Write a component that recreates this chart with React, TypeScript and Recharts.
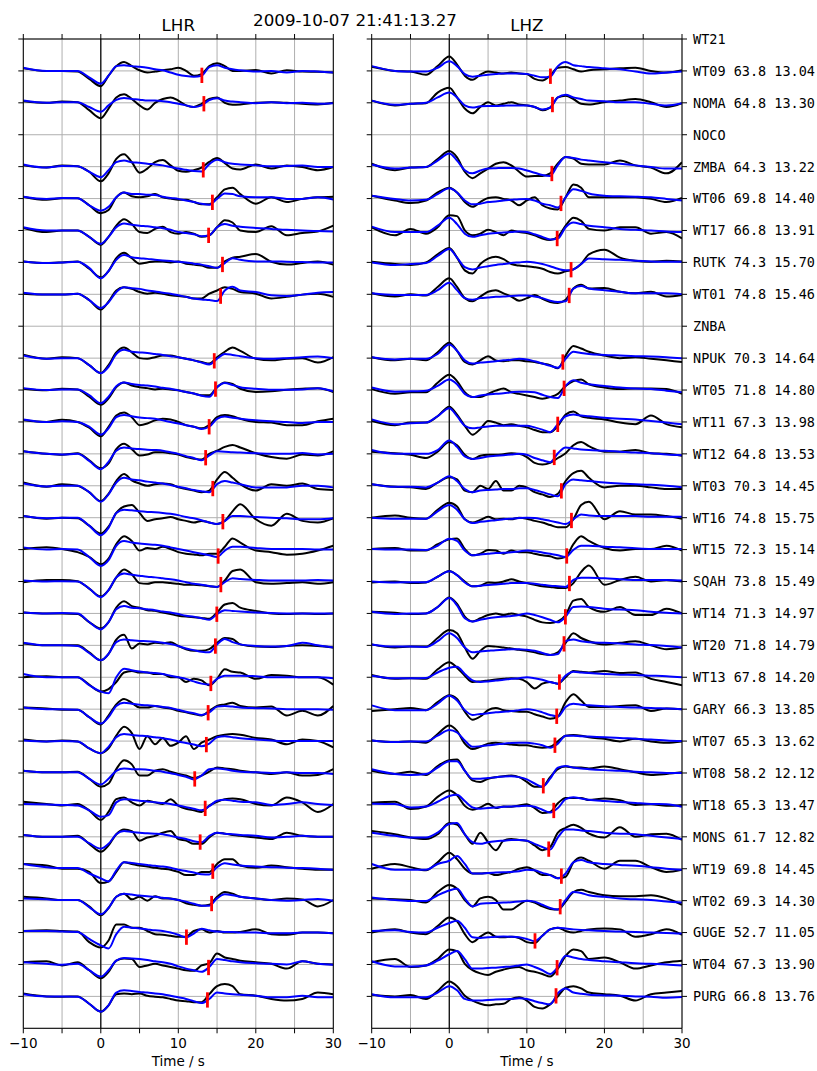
import React from 'react';
import { LineChart, Line, XAxis, YAxis, CartesianGrid, ReferenceLine } from 'recharts';

// ---------- data ----------
const TITLE = '2009-10-07 21:41:13.27';
const COMPONENTS = ['LHR', 'LHZ'];
const X_LABEL = 'Time / s';
const X_TICKS = [-10, -5, 0, 5, 10, 15, 20, 25, 30];
// sample times (s) of the traces
const TIMES = [-10, -7, -5, -3, -1.5, 0, 1, 2, 3, 4, 5, 6, 7, 8, 9, 10, 11, 12, 13, 14, 15, 16, 17, 18, 20, 22, 24, 26, 28, 30];

const STATIONS = ['WT21', 'WT09', 'NOMA', 'NOCO', 'ZMBA', 'WT06', 'WT17', 'RUTK', 'WT01', 'ZNBA', 'NPUK', 'WT05', 'WT11', 'WT12', 'WT03', 'WT16', 'WT15', 'SQAH', 'WT14', 'WT20', 'WT13', 'GARY', 'WT07', 'WT08', 'WT18', 'MONS', 'WT19', 'WT02', 'GUGE', 'WT04', 'PURG'];
const DISTANCES = [null, 63.8, 64.8, null, 64.3, 69.8, 66.8, 74.3, 74.8, null, 70.3, 71.8, 67.3, 64.8, 70.3, 74.8, 72.3, 73.8, 71.3, 71.8, 67.8, 66.3, 65.3, 58.2, 65.3, 61.7, 69.8, 69.3, 52.7, 67.3, 66.8];
const PICKS = [null, 13.04, 13.30, null, 13.22, 14.40, 13.91, 15.70, 15.46, null, 14.64, 14.80, 13.98, 13.53, 14.45, 15.75, 15.14, 15.49, 14.97, 14.79, 14.20, 13.85, 13.62, 12.12, 13.47, 12.82, 14.45, 14.30, 11.05, 13.90, 13.76];

// amplitudes in hundredths of the trace spacing, one row per station (null = no data)
const LHR_OBS = [
  null,
  [8, 0, 0, -2, -25, -48, -15, 15, 28, 15, 2, -5, -2, 2, 5, 10, 0, -15, -10, 15, 24, 15, 0, 0, 3, -8, 2, -2, -3, -5], // WT09
  [5, 0, 4, 2, -23, -48, -18, 17, 27, 12, -8, -21, 0, 12, 17, 7, -8, -13, -3, 12, 17, 0, -6, -5, 0, 2, 0, -3, -5, 0], // NOMA
  null,
  [4, -3, 4, 1, -16, -46, -21, 24, 39, 14, -19, -6, 14, 21, 4, -13, -16, -11, -3, 15, 27, 11, -6, -9, 7, -6, 4, -1, -11, -1], // ZMBA
  [6, -4, 1, 1, -21, -46, -36, 4, 19, 7, 4, 7, 14, 4, 0, -4, -4, -11, -18, -18, 4, 29, 34, 14, -16, 4, -11, -1, 4, 6], // WT06
  [8, -5, 0, 0, -20, -45, -20, 15, 35, 20, -5, -8, 5, 12, -5, -10, -5, -10, -20, -15, 10, 32, 25, 0, -5, 13, -15, -8, -3, 15], // WT17
  [3, -2, 0, 3, -20, -47, -27, 13, 30, 13, -4, 0, 3, 3, 0, 3, -4, -7, -10, -17, -17, 3, 15, 18, 26, 2, -7, -2, 3, -7], // RUTK
  [2, -1, -1, 2, -18, -48, -23, 12, 22, 17, 7, 2, 5, 2, -3, -5, -8, -13, -13, 2, 12, 22, 17, 7, 2, -13, -8, -1, 2, -8], // WT01
  null,
  [11, -2, 3, 0, -22, -47, -22, 18, 33, 18, 0, -2, 3, 8, 8, 3, -2, -7, -12, -17, 3, 20, 33, 23, -2, -7, -2, 0, -14, 3], // NPUK
  [4, -1, 4, 2, -21, -46, -26, 9, 24, 14, 9, 6, 2, 4, 2, -1, -6, -11, -16, -16, 9, 24, 19, 4, -6, -4, 1, 4, 6, -6], // WT05
  [5, 0, 7, 0, -18, -45, -15, 20, 30, 15, -10, -5, 5, 10, 8, 0, -10, -15, -20, -10, 15, 22, 18, 10, 0, -2, -10, -10, 2, 10], // WT11
  [8, 0, -3, 2, -20, -45, -30, 15, 32, 15, -5, -2, 5, 5, 2, -2, -10, -15, -18, 0, 10, 22, 28, 20, 2, -10, -15, -2, -5, 8], // WT12
  [10, -3, 5, 0, -20, -48, -25, 15, 37, 17, 7, 0, 5, 7, 5, -5, -10, -15, -20, -15, 20, 43, 25, 5, -15, 5, 0, 7, -10, -13], // WT03
  [5, -3, 0, -2, -25, -50, -28, 15, 35, 40, 15, -10, -5, -2, 2, -5, -10, -15, -10, -15, -20, -10, 20, 42, -5, -25, 12, -10, -15, -2], // WT16
  [2, 7, 2, -8, -23, -46, -28, 17, 42, 27, -3, 5, 2, 9, 2, -8, -13, -15, -18, -13, -13, 9, 35, 22, -3, -8, -16, -13, -3, 12], // WT15
  [-2, 5, 5, 1, -22, -47, -27, 13, 38, 23, -5, -7, -2, -2, -5, -7, -10, -10, -12, -15, -17, 3, 33, 38, -2, -7, -5, -2, -7, -2], // SQAH
  [3, 0, 0, -2, -27, -47, -27, 18, 38, 23, 18, 10, 8, 3, -2, -7, -10, -12, -14, -17, 3, 28, 33, 18, 8, 0, -2, 0, -2, 0], // WT14
  [6, 0, 0, 0, -22, -47, -27, 18, 33, -10, 6, 3, 8, 6, 10, -2, -12, -17, -17, -12, 8, 23, 20, 3, -4, -5, -2, 0, -2, -7], // WT20
  [0, 3, 0, 0, -23, -45, -37, -15, 15, 20, 15, 15, 10, 10, 0, 0, -15, -5, -10, -25, -5, 25, 17, 15, -5, 7, 5, 0, 0, -23], // WT13
  [5, 2, -2, -2, -25, -48, -20, 15, 32, 20, 5, 5, 10, 5, 2, -5, -10, -15, -20, -5, 10, 15, 20, 10, 5, 8, -20, -5, -20, 10], // GARY
  [5, -1, 2, -1, -23, -38, -23, 17, 45, 25, -25, 15, -10, 10, -15, -5, 15, -25, -5, 5, 15, 20, 22, 20, 10, 5, -10, 5, 0, -20], // WT07
  [7, 2, 2, 4, -18, -43, -33, 12, 40, 27, -8, -8, 7, 12, 4, -3, -8, -16, -8, 4, 17, 14, 12, 7, 2, -3, 2, -8, -6, 12], // WT08
  [10, 3, -2, 3, -17, -47, -22, 18, 23, 8, -2, 13, 8, 3, 18, -2, -12, -17, -22, -2, 10, 18, 20, 18, 3, -2, 23, 8, -22, 3], // WT18
  [6, 0, 0, 3, -22, -47, -27, 8, 23, 18, -12, -2, 3, 13, 18, -7, -12, -22, -22, -2, 13, 10, 6, 3, -2, -7, 13, 3, 0, 0], // MONS
  [15, 10, 0, 0, -10, -45, -40, -10, 20, 15, 10, 7, 3, 0, -3, -10, -20, -20, -10, -10, 15, 30, 30, 10, 3, 10, 5, 0, -3, -3], // WT19
  [12, 7, 2, 2, -18, -46, -23, 12, 22, 4, 12, 0, 14, 7, 7, 2, -8, -13, -16, -13, 12, 27, 22, 12, 7, 2, 7, 4, -18, 2], // WT02
  [5, 7, 5, 3, -30, -47, -25, 25, 25, 15, 15, 5, -5, -7, -10, -13, -13, 5, 10, 0, 5, 0, 0, 2, 10, -5, -7, 0, 0, -2], // GUGE
  [7, 10, -3, 7, -18, -43, -23, 12, 19, 17, -8, -3, 2, -3, -8, -13, -18, -20, -3, 4, 34, 22, 17, 12, 7, 2, -13, 10, 2, 0], // WT04
  [9, 0, -1, 0, -23, -48, -28, 7, 9, 7, 9, 2, -1, -3, -8, -13, -15, -18, -18, 7, 32, 39, 32, 7, 2, -8, -13, -8, 12, 7], // PURG
];

const LHR_SYN = [
  null,
  [10, 0, 0, 0, -20, -40, -15, 15, 18, 15, 13, 10, 5, 2, -5, -12, -16, -18, -15, 12, 18, 10, 5, 2, -2, 0, -5, 0, -2, -5], // WT09
  [7, 0, 2, 2, -13, -28, -8, 9, 15, 12, 10, 7, 7, 5, 2, -3, -8, -13, -8, 9, 14, 7, 4, 2, -1, 2, -1, 0, -3, -1], // NOMA
  null,
  [7, -3, 2, 1, -16, -33, -11, 14, 19, 14, 12, 9, 7, 4, -1, -6, -10, -14, -15, 8, 22, 14, 9, 7, 4, 1, 2, 4, -1, -1], // ZMBA
  [6, -1, 2, 1, -21, -38, -26, 4, 19, 14, 14, 12, 11, 6, 2, -1, -6, -11, -16, -19, -1, 16, 14, 7, 4, 4, -1, -1, 4, -3], // WT06
  [10, 0, 0, 0, -20, -42, -20, 10, 22, 18, 15, 13, 10, 7, 2, -5, -8, -12, -18, -15, 10, 20, 15, 12, 8, 5, 2, 0, -2, -3], // WT17
  [3, -2, 0, 2, -17, -50, -27, 8, 23, 16, 13, 11, 8, 6, 4, 2, 0, -4, -7, -12, -17, -2, 13, 8, 3, 3, 2, 1, 0, 0], // RUTK
  [5, -1, -1, 2, -18, -43, -25, 7, 22, 19, 17, 12, 9, 5, 2, -3, -8, -13, -16, -18, -21, 12, 24, 12, 7, -3, -5, -1, 5, 7], // WT01
  null,
  [8, -2, 0, 0, -22, -47, -27, 13, 26, 20, 18, 16, 13, 10, 6, 3, -2, -7, -14, -20, -2, 13, 10, 6, 0, -2, 0, 3, 5, 0], // NPUK
  [6, 0, 2, 2, -16, -41, -21, 12, 24, 19, 16, 14, 11, 7, 4, -1, -6, -11, -18, -21, 9, 22, 16, 9, 4, 1, 1, 2, 6, -4], // WT05
  [8, 0, 2, 0, -15, -40, -20, 15, 22, 18, 14, 12, 10, 5, 0, -5, -10, -15, -22, -15, 10, 17, 13, 10, 5, 2, 0, -3, 0, 0], // WT11
  [8, 0, -2, 0, -22, -48, -25, 10, 20, 17, 15, 13, 12, 10, 5, 0, -7, -13, -20, -5, 8, 7, 5, 4, 2, 0, 0, 3, -2, 0], // WT12
  [7, -2, 0, 0, -20, -50, -27, 10, 25, 20, 17, 13, 10, 7, 2, -3, -8, -13, -17, -20, 5, 15, 10, 5, -5, -5, -5, 0, 0, -5], // WT03
  [5, -2, 0, 0, -25, -55, -32, 15, 25, 23, 20, 18, 17, 15, 12, 8, 2, -2, -8, -15, -20, -10, 5, 5, 2, 0, -2, -5, -5, -2], // WT16
  [7, 0, 2, 0, -23, -51, -33, 12, 27, 22, 19, 17, 15, 12, 7, 2, -3, -8, -13, -18, -23, -3, 9, 9, 5, 2, 2, 2, 0, 0], // WT15
  [3, 0, 1, 0, -22, -49, -27, 13, 25, 21, 18, 15, 13, 10, 7, 3, -2, -7, -10, -14, -17, -2, 10, 8, 5, 3, 3, 3, 5, 3], // SQAH
  [3, 0, 1, 0, -27, -50, -27, 13, 23, 18, 16, 13, 10, 6, 3, -2, -7, -10, -15, -20, -2, 10, 8, 6, 3, 1, 0, 0, 0, 0], // WT14
  [8, 0, 0, -2, -24, -47, -27, 10, 18, 16, 14, 13, 11, 8, 4, -2, -10, -15, -20, -22, 3, 20, 10, 3, -2, -4, -2, 8, 0, -7], // WT20
  [10, 0, 0, 0, -25, -45, -50, 0, 27, 22, 18, 15, 13, 10, 5, 0, -5, -13, -20, -23, -5, 5, 5, 5, 3, 0, 0, 0, 0, -3], // WT13
  [5, 0, 0, -2, -25, -45, -25, 10, 20, 17, 14, 12, 10, 7, 4, -2, -8, -13, -18, -10, 8, 10, 8, 5, 3, 2, 0, 0, 0, -2], // GARY
  [2, -1, 0, -1, -23, -38, -18, 12, 22, 19, 17, 15, 12, 9, 5, -1, -6, -11, -16, -8, 12, 15, 12, 9, 5, 2, 0, 0, 0, 0], // WT07
  [7, 2, 2, 2, -18, -36, -18, 7, 14, 12, 12, 10, 7, 4, -1, -6, -12, -20, -8, 12, 14, 12, 7, 4, 2, 0, 2, 0, 0, -3], // WT08
  [3, 1, 0, -2, -17, -37, -32, 8, 18, 16, 13, 11, 8, 6, 3, -2, -7, -12, -17, -4, 13, 16, 13, 10, 8, 0, 3, 8, 3, 0], // WT18
  [6, 0, 0, 0, -20, -37, -22, 8, 18, 15, 13, 11, 10, 8, 3, -2, -7, -14, -17, 3, 13, 10, 8, 6, 3, -2, 0, 3, 0, 0], // MONS
  [15, 5, 2, 2, -15, -30, -40, -5, 20, 18, 15, 12, 9, 7, 3, -3, -7, -12, -17, -18, 5, 17, 13, 10, 7, 5, 3, 2, 0, -3], // WT19
  [7, 4, 2, 2, -20, -43, -23, 12, 22, 19, 16, 14, 12, 9, 6, 2, -3, -10, -16, -16, 7, 20, 17, 12, 7, 2, 0, 2, 5, 0], // WT02
  [5, 5, 3, 2, -20, -40, -50, -5, 18, 15, 13, 10, 7, 5, 0, -7, -15, -3, 12, 7, 3, 2, 2, 0, 0, -2, -2, 0, 0, -2], // GUGE
  [7, 2, -1, 2, -18, -38, -18, 12, 20, 19, 17, 14, 10, 7, 2, -6, -13, -18, -23, -8, 17, 14, 10, 7, 4, 2, 0, 10, 2, -1], // WT04
  [7, 0, 0, -1, -23, -48, -28, 12, 19, 17, 14, 12, 9, 7, 2, -3, -8, -15, -21, -8, 12, 9, 7, 5, 2, -3, -3, 2, -3, -3], // PURG
];

const LHZ_OBS = [
  null,
  [13, 0, -2, -12, 15, 45, 20, -15, -28, -12, -2, -5, -8, -5, -8, -10, -25, -30, -15, 10, 12, 5, -2, 2, 5, 8, 10, 0, -5, 2], // WT09
  [7, -8, -3, -1, 32, 47, 17, -18, -33, -13, 2, -8, -3, 2, -5, -8, -13, -23, -15, 17, 22, 12, -3, -5, 2, 7, 12, 2, -13, -1], // NOMA
  null,
  [9, -11, -3, -1, 24, 49, 29, -16, -36, -21, -6, 9, 14, 4, -16, -31, -29, -29, -21, 10, 30, 25, 9, 7, 7, 19, 4, -3, -21, 14], // ZMBA
  [9, -6, -14, -6, 19, 34, 19, -11, -26, -11, 2, 4, -1, -6, -21, -6, 4, -21, -31, -34, 4, 44, 34, 4, 4, 4, 4, -1, -11, 2], // WT06
  [10, -15, 5, -10, 10, 48, 45, 0, -15, -10, 2, -5, -15, 0, -5, -8, -15, -25, -30, -20, 15, 40, 30, 5, 0, 10, 10, -10, -5, -25], // WT17
  [2, -5, -8, 0, 25, 45, 15, -25, -35, -5, 12, 18, 10, -5, -10, -12, -15, -20, -30, -35, -28, -22, -5, 25, 40, 15, 5, 2, 5, 3], // RUTK
  [3, -7, 0, -4, 23, 50, 23, -12, -22, -7, 8, 13, 3, -7, -20, -12, -2, -14, -24, -27, -17, 18, 30, 18, 20, 8, 3, 8, -7, -2], // WT01
  null,
  [3, -7, -2, -7, 18, 48, 23, -12, -20, -7, 6, -7, -10, -7, -7, -10, -12, -17, -22, -32, 8, 38, 30, 20, 8, 0, 3, -2, -7, -12], // NPUK
  [3, -12, -7, -7, 23, 48, 28, -7, -22, -22, -12, -2, 5, -7, -12, -17, -22, -27, -22, -12, 13, 28, 33, 18, 8, 3, 5, 5, 3, -12], // WT05
  [3, -10, -2, -2, 18, 48, 23, -12, -40, -22, 3, -2, -10, -7, -12, -17, -25, -32, -32, -12, 23, 33, 18, 13, 8, -2, -7, 20, -7, -17], // WT11
  [7, 2, -3, -13, 7, 37, 27, -3, -16, -6, -3, -3, -1, 2, 0, -10, -28, -33, -28, -13, 2, 27, 37, 24, 7, 7, 12, 2, 0, -6], // WT12
  [5, -3, -5, -10, 10, 27, 20, -15, -20, 0, -10, 15, -15, -15, 0, -5, -20, -27, -35, -25, 15, 40, 47, 25, -5, 0, 0, -5, -10, -10], // WT03
  [0, 7, 0, -3, 25, 47, 35, -5, -15, -7, 3, -5, -3, -5, 0, -3, -10, -15, -23, -30, -30, -5, 40, 50, -5, 20, 10, 10, 5, -3], // WT16
  [2, 5, -3, -3, 17, 32, 35, 2, -18, -13, -1, -3, -13, -3, -8, -8, -13, -18, -21, -28, -23, 17, 42, 27, 5, -3, 2, 2, 12, -3], // WT15
  [-3, 0, -5, -3, 15, 33, 20, 0, -15, -13, -3, -5, 0, 7, 0, -5, -10, -15, -17, -20, -20, -5, 30, 50, -10, 5, 15, 0, 5, 0], // SQAH
  [5, 2, -2, 0, 20, 50, 30, -10, -25, -15, -5, 0, -5, 0, -5, -10, -20, -28, -30, -25, -5, 40, 45, 20, 5, 20, -5, -5, 15, 0], // WT14
  [3, -7, -4, -4, 23, 48, 38, -7, -42, -17, -2, -4, -7, -10, -14, -17, -22, -27, -30, -22, 8, 38, 23, 13, 3, 8, 13, 0, -12, -7], // WT20
  [7, -5, -3, -5, 25, 47, 30, 5, -15, -13, -10, -7, -5, -3, -5, -15, -35, -20, -15, -20, 0, 20, 17, 15, 20, 13, 15, -5, -15, -25], // WT13
  [-6, 0, 4, -3, 22, 44, 32, -8, -33, -23, -3, 4, -3, -6, -8, -8, -16, -23, -30, -23, 22, 47, 27, 7, 7, 10, 12, -6, 2, 0], // GARY
  [2, -3, -1, -5, 22, 49, 32, -8, -25, -18, -8, -5, -8, -11, -13, -13, -18, -21, -18, -1, 17, 19, 17, 12, 7, -1, 7, -1, -5, -1], // WT07
  [7, -3, 4, -6, 22, 40, 42, 7, -23, -28, -18, -13, -10, -8, -13, -28, -43, -43, -13, 12, 20, 17, 17, 14, 20, 12, 2, -6, -3, 2], // WT08
  [7, 10, -13, -5, 25, 45, 30, -3, -15, -8, 4, -10, -5, -6, -2, 2, -10, -25, -22, 5, 22, 22, 22, 15, 20, 15, 0, 2, -3, 0], // WT18
  [18, 8, -2, -7, 8, 43, 38, 8, -22, 13, -17, -42, -12, -7, -10, -12, -27, -42, -32, 13, 28, 38, 28, 10, -2, 30, 0, 8, 10, -10], // MONS
  [0, 15, 5, -5, 20, 50, 30, 0, -15, -15, -13, -20, -15, -10, 0, 5, -5, -20, -20, -30, -25, 20, 35, 25, 0, 25, 25, 5, -10, -3], // WT19
  [7, 4, 2, -6, 27, 49, 37, 2, -18, 7, 12, 2, -28, -28, -13, 0, -6, -18, -26, -28, -3, 27, 34, 27, 17, 14, 14, 17, 7, -13], // WT02
  [0, 10, 0, -5, 20, 47, 35, -5, -30, -13, 0, -13, -15, -13, -17, -30, -33, -10, 10, 15, 5, 0, 5, 10, 13, 10, -13, -5, 10, -7], // GUGE
  [7, 17, -8, -3, 17, 47, 42, 2, -18, -28, -33, -23, -16, -10, -8, -18, -23, -30, -38, -13, 27, 47, 42, 17, 22, 7, -13, -3, 7, 12], // WT04
  [5, 0, 4, -8, 17, 47, 32, 2, -13, -23, -28, -25, -23, -8, -3, -13, -33, -38, -25, 0, 27, 32, 25, 12, 7, 2, -13, 7, 12, 17], // PURG
];

const LHZ_SYN = [
  null,
  [15, 0, -2, -2, 10, 30, 15, -10, -18, -15, -12, -10, -8, -8, -8, -10, -15, -20, -18, 15, 28, 18, 15, 12, 8, 5, -2, -8, -5, -2], // WT09
  [7, -6, -3, 0, 17, 32, 17, -8, -15, -11, -10, -10, -9, -8, -8, -8, -13, -21, -15, 17, 25, 17, 12, 7, 5, 2, 2, -3, -8, -1], // NOMA
  null,
  [7, -6, -3, -1, 19, 41, 19, -11, -21, -12, -6, -5, -4, -4, -6, -12, -19, -26, -29, 5, 30, 27, 22, 19, 14, 9, 4, -1, -6, -6], // ZMBA
  [9, -1, -6, -4, 14, 32, 19, -6, -18, -16, -11, -9, -6, -4, -2, -1, -6, -16, -21, -28, 4, 29, 24, 16, 9, 7, 6, 4, -1, -6], // WT06
  [12, -5, -5, -5, 15, 40, 20, -10, -20, -15, -10, -8, -6, -5, -3, -5, -12, -20, -28, -25, 10, 25, 20, 15, 10, 5, 2, 0, -3, -5], // WT17
  [0, -8, -5, -2, 20, 42, 15, -15, -22, -16, -12, -8, -5, -2, 0, 2, 0, -5, -12, -20, -25, -22, -5, 12, 10, 8, 5, 3, 2, 2], // RUTK
  [3, -2, -2, -2, 13, 36, 13, -12, -17, -12, -10, -8, -7, -5, -4, -4, -7, -12, -20, -24, -22, 18, 26, 18, 13, 8, 3, 3, 3, 0], // WT01
  null,
  [3, -4, -2, -2, 13, 43, 23, -7, -17, -14, -12, -10, -7, -5, -2, -4, -10, -17, -24, -30, -2, 20, 16, 13, 10, 8, 6, 5, 3, 0], // NPUK
  [8, -5, -4, -2, 13, 33, 18, -12, -22, -17, -14, -12, -10, -7, -5, -5, -7, -15, -22, -25, 13, 31, 23, 18, 13, 8, 5, 3, -2, -7], // WT05
  [8, -7, -4, -2, 18, 43, 18, -12, -20, -17, -14, -12, -12, -12, -12, -12, -17, -24, -32, -7, 18, 23, 20, 18, 13, 10, 8, 3, -2, -7], // WT11
  [12, 0, 0, 0, 12, 42, 22, -8, -16, -13, -8, -6, -4, -2, 0, -3, -13, -20, -26, 2, 20, 17, 14, 12, 10, 7, 4, 2, -2, -4], // WT12
  [5, -3, -3, -5, 10, 30, 15, -10, -20, -15, -13, -12, -10, -10, -8, -8, -13, -20, -27, -33, 5, 20, 17, 15, 10, 7, 5, 3, 0, -5], // WT03
  [0, -3, -3, -3, 20, 40, 25, -5, -17, -13, -10, -8, -5, -3, -1, 0, -1, -5, -10, -15, -20, -5, 10, 7, 5, 5, 5, 3, 3, 3], // WT16
  [2, 0, 0, -1, 12, 34, 27, -3, -18, -15, -13, -11, -10, -8, -6, -3, -5, -9, -13, -18, -23, -1, 12, 12, 9, 7, 4, 2, 2, 2], // WT15
  [0, -3, -2, -2, 15, 32, 20, -3, -15, -13, -11, -9, -7, -5, -5, -5, -7, -10, -13, -15, -17, 5, 12, 12, 10, 7, 5, 5, 5, 3], // SQAH
  [5, -2, 0, 0, 20, 48, 25, -15, -25, -20, -15, -12, -10, -8, -5, 0, -5, -12, -20, -28, -10, 20, 22, 20, 15, 12, 10, 5, 2, 0], // WT14
  [3, -4, -4, -5, 13, 38, 23, -7, -22, -19, -17, -15, -14, -12, -12, -14, -17, -24, -30, -27, 13, 18, 13, 10, 8, 6, 3, 1, -2, -7], // WT20
  [5, -3, -3, -2, 15, 30, 33, 10, -10, -15, -13, -10, -8, -5, -3, 0, -3, -8, -15, -20, 5, 17, 15, 13, 10, 8, 7, 5, 3, 0], // WT13
  [12, -3, -3, -3, 17, 42, 27, -3, -18, -15, -13, -10, -8, -6, -3, 0, -3, -10, -18, -23, 7, 17, 14, 12, 9, 7, 5, 4, 2, 0], // GARY
  [2, -3, -1, -1, 17, 35, 27, 2, -18, -16, -13, -11, -8, -6, -5, -5, -8, -13, -21, -8, 17, 17, 15, 14, 12, 10, 7, 5, 2, 0], // WT07
  [12, -3, -6, -3, 17, 37, 37, 7, -18, -18, -16, -13, -11, -10, -13, -20, -33, -43, -18, 17, 22, 17, 14, 12, 9, 7, 4, 2, 0, 0], // WT08
  [4, 3, -8, -5, 10, 28, 32, 12, -8, -12, -10, -8, -6, -5, -4, -3, -6, -15, -24, -10, 18, 24, 20, 16, 12, 9, 6, 3, 2, -6], // WT18
  [13, 3, -2, -2, 13, 40, 43, 8, -17, -22, -17, -14, -12, -10, -10, -12, -22, -32, -40, -2, 23, 23, 20, 18, 13, 10, 8, 3, -2, -7], // MONS
  [15, -3, -3, -3, 15, 25, 40, 15, -15, -15, -13, -12, -11, -10, -8, -3, -5, -13, -20, -30, -15, 20, 27, 20, 15, 12, 9, 5, 0, -3], // WT19
  [10, 2, -1, -1, 17, 32, 37, 7, -18, -10, -8, -7, -6, -5, -3, 0, -3, -13, -23, -28, 2, 27, 24, 17, 12, 7, 4, 2, -3, -6], // WT02
  [5, 7, 2, 0, 15, 30, 37, 15, -15, -17, -15, -13, -12, -13, -15, -20, -27, -10, 10, 15, 13, 10, 8, 7, 5, 3, 2, 0, -1, -3], // GUGE
  [10, -6, -6, -3, 12, 32, 42, 17, -13, -13, -11, -10, -8, -6, -3, 0, -8, -18, -30, -8, 27, 22, 17, 14, 10, 7, 4, 2, 0, -3], // WT04
  [7, -3, -3, -3, 12, 32, 19, -8, -13, -13, -11, -10, -9, -8, -6, -8, -15, -21, -25, 10, 25, 12, 8, 5, 3, 2, 0, -1, -4, -2], // PURG
];

// ---------- layout ----------
const W = 817;
const H = 1071;
const PLOT_TOP = 39;
const PLOT_BOTTOM = 1028.3;
const PANEL_BOX = [
  { left: 23.3, right: 333.3 },
  { left: 371.7, right: 682 },
];
const TOP_AXIS_H = 10;
const BOTTOM_AXIS_H = 40;
const LEFT_AXIS_W = 20;
const SANS = "'DejaVu Sans', sans-serif";
const MONO = "'DejaVu Sans Mono', monospace";
const N_ROWS = STATIONS.length;
const ROW_TICKS = STATIONS.map((_, i) => N_ROWS - 1 - i);

const rowBase = (i: number) => N_ROWS - 1 - i;

function tracePoints(amps: number[], row: number) {
  return TIMES.map((t, k) => ({ x: t, y: rowBase(row) + amps[k] / 100 }));
}

function ampAt(amps: number[], t: number) {
  for (let k = 0; k < TIMES.length - 1; k++) {
    if (t >= TIMES[k] && t <= TIMES[k + 1]) {
      const f = (t - TIMES[k]) / (TIMES[k + 1] - TIMES[k]);
      return amps[k] + f * (amps[k + 1] - amps[k]);
    }
  }
  return 0;
}

function stationLabel(i: number) {
  if (DISTANCES[i] == null || PICKS[i] == null) return STATIONS[i];
  return `${STATIONS[i]} ${(DISTANCES[i] as number).toFixed(1)} ${(PICKS[i] as number).toFixed(2)}`;
}

const fmtX = (v: number) => (v % 10 === 0 ? (v < 0 ? '\u2212' + Math.abs(v) : String(v)) : '');

const StationTick = (props: any) => {
  const { x, y, payload } = props;
  const i = N_ROWS - 1 - Math.round(payload.value);
  return (
    <text x={x} y={y} dy="0.36em" textAnchor="start" fontFamily={MONO} fontSize={13.5} fill="#000">
      {stationLabel(i)}
    </text>
  );
};

function Panel({ index, obs, syn }: { index: number; obs: (number[] | null)[]; syn: (number[] | null)[] }) {
  const { left, right } = PANEL_BOX[index];
  const labels = index === 1;
  const rightW = labels ? 120 : 20;
  const margin = {
    top: PLOT_TOP - TOP_AXIS_H,
    bottom: H - PLOT_BOTTOM - BOTTOM_AXIS_H,
    left: left - LEFT_AXIS_W,
    right: W - right - rightW,
  };
  const axisLine = { stroke: '#000', strokeWidth: 1 };
  const tickLine = { stroke: '#000', strokeWidth: 1 };

  const traces: React.ReactNode[] = [];
  STATIONS.forEach((_, i) => {
    const o = obs[i];
    const s = syn[i];
    if (o) {
      traces.push(
        <Line key={`o${i}`} data={tracePoints(o, i)} dataKey="y" xAxisId="b" yAxisId="l" type="monotone"
          stroke="#000000" strokeWidth={2} dot={false} activeDot={false} isAnimationActive={false} />
      );
    }
    if (s) {
      traces.push(
        <Line key={`s${i}`} data={tracePoints(s, i)} dataKey="y" xAxisId="b" yAxisId="l" type="monotone"
          stroke="#0000ff" strokeWidth={2} dot={false} activeDot={false} isAnimationActive={false} />
      );
    }
  });

  const markers: React.ReactNode[] = [];
  STATIONS.forEach((_, i) => {
    const p = PICKS[i];
    const s = syn[i];
    if (p == null || !s) return;
    const c = rowBase(i) + ampAt(s, p) / 100;
    markers.push(
      <ReferenceLine key={`p${i}`} xAxisId="b" yAxisId="l" segment={[{ x: p, y: c - 0.24 }, { x: p, y: c + 0.24 }]}
        stroke="#ff0000" strokeWidth={2.8} />
    );
  });

  return (
    <div style={{ position: 'absolute', left: 0, top: 0 }}>
      <LineChart width={W} height={H} margin={margin}>
        <CartesianGrid xAxisId="b" yAxisId="l" stroke="#b0b0b0" strokeWidth={1} />
        <XAxis xAxisId="b" dataKey="x" type="number" domain={[-10, 30]} allowDataOverflow ticks={X_TICKS} interval={0}
          height={BOTTOM_AXIS_H} tickSize={5} tickMargin={5} tickFormatter={fmtX} axisLine={axisLine} tickLine={tickLine}
          tick={{ fill: '#000', fontSize: 13.5, fontFamily: SANS }} />
        <XAxis xAxisId="t" orientation="top" dataKey="x" type="number" domain={[-10, 30]} allowDataOverflow ticks={X_TICKS}
          interval={0} height={TOP_AXIS_H} tickSize={5} tickFormatter={() => ''} axisLine={axisLine} tickLine={tickLine} />
        <YAxis yAxisId="l" type="number" domain={[-1, N_ROWS - 1]} allowDataOverflow ticks={ROW_TICKS} interval={0}
          width={LEFT_AXIS_W} tickSize={5} tickFormatter={() => ''} axisLine={axisLine} tickLine={tickLine} />
        <YAxis yAxisId="r" orientation="right" type="number" domain={[-1, N_ROWS - 1]} allowDataOverflow ticks={ROW_TICKS}
          interval={0} width={rightW} tickSize={5} tickMargin={6} axisLine={axisLine} tickLine={tickLine}
          tick={labels ? StationTick : false} tickFormatter={labels ? undefined : () => ''} />
        <ReferenceLine xAxisId="b" yAxisId="l" x={0} stroke="#000" strokeWidth={1.2} />
        {traces}
        {markers}
      </LineChart>
    </div>
  );
}

export default function App() {
  const centers = PANEL_BOX.map((b) => (b.left + b.right) / 2);
  return (
    <div style={{ position: 'absolute', left: 0, top: 0, width: W, height: H, background: '#fff' }}>
      <Panel index={0} obs={LHR_OBS} syn={LHR_SYN} />
      <Panel index={1} obs={LHZ_OBS} syn={LHZ_SYN} />
      <svg width={W} height={H} style={{ position: 'absolute', left: 0, top: 0, pointerEvents: 'none' }}>
        <text x={355} y={26} textAnchor="middle" fontFamily={SANS} fontSize={16.7} fill="#000">{TITLE}</text>
        {COMPONENTS.map((c, k) => (
          <text key={c} x={centers[k]} y={31} textAnchor="middle" fontFamily={SANS} fontSize={16.7} fill="#000">{c}</text>
        ))}
        {COMPONENTS.map((c, k) => (
          <text key={`xl${c}`} x={centers[k]} y={1066} textAnchor="middle" fontFamily={SANS} fontSize={13.5} fill="#000">{X_LABEL}</text>
        ))}
      </svg>
    </div>
  );
}
